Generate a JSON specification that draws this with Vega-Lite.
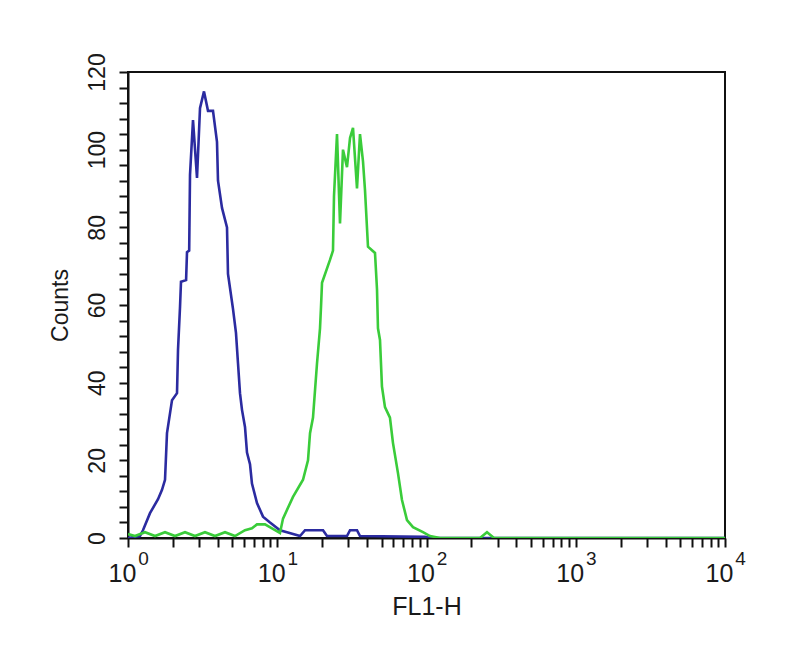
{
  "$schema": "https://vega.github.io/schema/vega-lite/v6.json",
  "width": 597,
  "height": 466,
  "autosize": {"type": "none"},
  "padding": {"left": 128, "top": 72, "right": 75, "bottom": 118},
  "background": "white",
  "config": {
    "font": "Liberation Sans",
    "view": {"stroke": "#111111", "strokeWidth": 2},
    "axis": {"grid": false, "labelColor": "#1a1a1a", "titleColor": "#1a1a1a", "titleFontWeight": "normal"}
  },
  "data": {
    "values": [
      {"s": "blue", "x": 1, "c": 0},
      {"s": "blue", "x": 1.203, "c": 0.5},
      {"s": "blue", "x": 1.26, "c": 2},
      {"s": "blue", "x": 1.404, "c": 6.4},
      {"s": "blue", "x": 1.589, "c": 10},
      {"s": "blue", "x": 1.69, "c": 12.4},
      {"s": "blue", "x": 1.77, "c": 15},
      {"s": "blue", "x": 1.825, "c": 27},
      {"s": "blue", "x": 1.972, "c": 35.5},
      {"s": "blue", "x": 2.13, "c": 37.3},
      {"s": "blue", "x": 2.163, "c": 48.4},
      {"s": "blue", "x": 2.231, "c": 59.5},
      {"s": "blue", "x": 2.265, "c": 66},
      {"s": "blue", "x": 2.45, "c": 66.4},
      {"s": "blue", "x": 2.485, "c": 73.6},
      {"s": "blue", "x": 2.57, "c": 74},
      {"s": "blue", "x": 2.603, "c": 93.5},
      {"s": "blue", "x": 2.726, "c": 107.6},
      {"s": "blue", "x": 2.9, "c": 92.7},
      {"s": "blue", "x": 3.037, "c": 110.7},
      {"s": "blue", "x": 3.23, "c": 115},
      {"s": "blue", "x": 3.436, "c": 110},
      {"s": "blue", "x": 3.711, "c": 110},
      {"s": "blue", "x": 3.947, "c": 102},
      {"s": "blue", "x": 4.009, "c": 92},
      {"s": "blue", "x": 4.264, "c": 85},
      {"s": "blue", "x": 4.606, "c": 80},
      {"s": "blue", "x": 4.677, "c": 68},
      {"s": "blue", "x": 5.052, "c": 59},
      {"s": "blue", "x": 5.29, "c": 52.8},
      {"s": "blue", "x": 5.458, "c": 45},
      {"s": "blue", "x": 5.628, "c": 37.3},
      {"s": "blue", "x": 5.805, "c": 33},
      {"s": "blue", "x": 6.08, "c": 28.6},
      {"s": "blue", "x": 6.27, "c": 22},
      {"s": "blue", "x": 6.568, "c": 19},
      {"s": "blue", "x": 6.77, "c": 14},
      {"s": "blue", "x": 7.316, "c": 9},
      {"s": "blue", "x": 8.026, "c": 5.5},
      {"s": "blue", "x": 8.943, "c": 4},
      {"s": "blue", "x": 10.43, "c": 2},
      {"s": "blue", "x": 11.62, "c": 1.5},
      {"s": "blue", "x": 14.21, "c": 0.5},
      {"s": "blue", "x": 15.35, "c": 2},
      {"s": "blue", "x": 20.26, "c": 2},
      {"s": "blue", "x": 21.54, "c": 0.5},
      {"s": "blue", "x": 29.33, "c": 0.5},
      {"s": "blue", "x": 30.73, "c": 2},
      {"s": "blue", "x": 34.22, "c": 2},
      {"s": "blue", "x": 35.84, "c": 0.5},
      {"s": "blue", "x": 97.7, "c": 0.3},
      {"s": "blue", "x": 105.6, "c": 0},
      {"s": "blue", "x": 10000, "c": 0},
      {"s": "green", "x": 1, "c": 1},
      {"s": "green", "x": 1.114, "c": 0.5},
      {"s": "green", "x": 1.3, "c": 1.5},
      {"s": "green", "x": 1.517, "c": 0.5},
      {"s": "green", "x": 1.77, "c": 1.5},
      {"s": "green", "x": 2.065, "c": 0.5},
      {"s": "green", "x": 2.41, "c": 1.5},
      {"s": "green", "x": 2.81, "c": 0.5},
      {"s": "green", "x": 3.28, "c": 1.5},
      {"s": "green", "x": 3.827, "c": 0.5},
      {"s": "green", "x": 4.467, "c": 1.5},
      {"s": "green", "x": 5.21, "c": 0.5},
      {"s": "green", "x": 6.08, "c": 2},
      {"s": "green", "x": 6.77, "c": 2.5},
      {"s": "green", "x": 7.316, "c": 3.5},
      {"s": "green", "x": 8.28, "c": 3.5},
      {"s": "green", "x": 9.22, "c": 2.5},
      {"s": "green", "x": 10.43, "c": 1.3},
      {"s": "green", "x": 10.93, "c": 5},
      {"s": "green", "x": 12.75, "c": 10.6},
      {"s": "green", "x": 14.88, "c": 15},
      {"s": "green", "x": 16.07, "c": 20},
      {"s": "green", "x": 16.58, "c": 27},
      {"s": "green", "x": 17.36, "c": 31},
      {"s": "green", "x": 18.47, "c": 45},
      {"s": "green", "x": 19.34, "c": 54},
      {"s": "green", "x": 19.64, "c": 59.5},
      {"s": "green", "x": 19.95, "c": 65.7},
      {"s": "green", "x": 22.56, "c": 71.6},
      {"s": "green", "x": 23.63, "c": 74},
      {"s": "green", "x": 24.0, "c": 88},
      {"s": "green", "x": 25.14, "c": 104},
      {"s": "green", "x": 26.33, "c": 81},
      {"s": "green", "x": 27.57, "c": 100},
      {"s": "green", "x": 29.33, "c": 95.5},
      {"s": "green", "x": 30.73, "c": 103},
      {"s": "green", "x": 32.18, "c": 105.6},
      {"s": "green", "x": 34.22, "c": 90},
      {"s": "green", "x": 35.84, "c": 104},
      {"s": "green", "x": 37.54, "c": 97},
      {"s": "green", "x": 38.72, "c": 89.6},
      {"s": "green", "x": 40.55, "c": 75},
      {"s": "green", "x": 45.18, "c": 73.4},
      {"s": "green", "x": 46.6, "c": 64},
      {"s": "green", "x": 47.3, "c": 54},
      {"s": "green", "x": 48.8, "c": 51},
      {"s": "green", "x": 50.3, "c": 39},
      {"s": "green", "x": 52.7, "c": 33.7},
      {"s": "green", "x": 56.9, "c": 31},
      {"s": "green", "x": 59.6, "c": 24.5},
      {"s": "green", "x": 64.4, "c": 16.7},
      {"s": "green", "x": 68.5, "c": 9.8},
      {"s": "green", "x": 74.0, "c": 4.6},
      {"s": "green", "x": 81.2, "c": 2.8},
      {"s": "green", "x": 94.7, "c": 1.5},
      {"s": "green", "x": 105.6, "c": 0.5},
      {"s": "green", "x": 123.2, "c": 0},
      {"s": "green", "x": 228.3, "c": 0},
      {"s": "green", "x": 254.3, "c": 1.5},
      {"s": "green", "x": 283.4, "c": 0},
      {"s": "green", "x": 10000, "c": 0}
    ]
  },
  "layer": [
    {
      "transform": [{"filter": "datum.s === 'blue'"}],
      "mark": {"type": "line", "color": "#2b2ba0", "strokeWidth": 2.6, "clip": true},
      "encoding": {
        "x": {
          "field": "x", "type": "quantitative",
          "scale": {"type": "log", "domain": [1, 10000], "nice": false},
          "axis": {
            "orient": "bottom",
            "values": [1,2,3,4,5,6,7,8,9,10,20,30,40,50,60,70,80,90,100,200,300,400,500,600,700,800,900,1000,2000,3000,4000,5000,6000,7000,8000,9000,10000],
            "labelExpr": "abs(log(datum.value)/LN10 - round(log(datum.value)/LN10)) < 0.000001 ? '10' : ''",
            "tickSize": 9, "tickWidth": 2, "tickColor": "#111111",
            "domainColor": "#111111", "domainWidth": 2,
            "labelFontSize": 25, "labelPadding": 14, "labelOffset": -6, "labelBaseline": "top",
            "labelOverlap": false, "labelBound": false, "labelFlush": false,
            "title": "FL1-H", "titleFontSize": 25, "titlePadding": 8
          }
        },
        "y": {
          "field": "c", "type": "quantitative",
          "scale": {"domain": [0, 120], "nice": false},
          "axis": {
            "orient": "left",
            "values": [0,4,8,12,16,20,24,28,32,36,40,44,48,52,56,60,64,68,72,76,80,84,88,92,96,100,104,108,112,116,120],
            "labelExpr": "datum.value % 20 === 0 ? datum.label : ''",
            "tickSize": 9, "tickWidth": 2, "tickColor": "#111111",
            "domainColor": "#111111", "domainWidth": 2,
            "labelFontSize": 23, "labelAngle": -90, "labelAlign": "center", "labelBaseline": "bottom",
            "labelPadding": 10, "labelOverlap": false, "labelBound": false, "labelFlush": false,
            "title": "Counts", "titleFontSize": 23, "titlePadding": 14
          }
        }
      }
    },
    {
      "transform": [{"filter": "datum.s === 'green'"}],
      "mark": {"type": "line", "color": "#3acc3a", "strokeWidth": 2.6, "clip": true},
      "encoding": {
        "x": {
          "field": "x", "type": "quantitative",
          "scale": {"type": "log", "domain": [1, 10000], "nice": false},
          "axis": {
            "orient": "bottom",
            "values": [1, 10, 100, 1000, 10000],
            "labelExpr": "'' + round(log(datum.value)/LN10)",
            "ticks": false, "tickSize": 0, "domain": false,
            "labelFontSize": 19, "labelPadding": 11, "labelOffset": 15, "labelBaseline": "top",
            "labelOverlap": false, "labelBound": false, "labelFlush": false,
            "labelColor": "#1a1a1a",
            "title": null
          }
        },
        "y": {"field": "c", "type": "quantitative", "axis": null}
      }
    }
  ],
  "resolve": {"axis": {"x": "independent", "y": "independent"}}
}
